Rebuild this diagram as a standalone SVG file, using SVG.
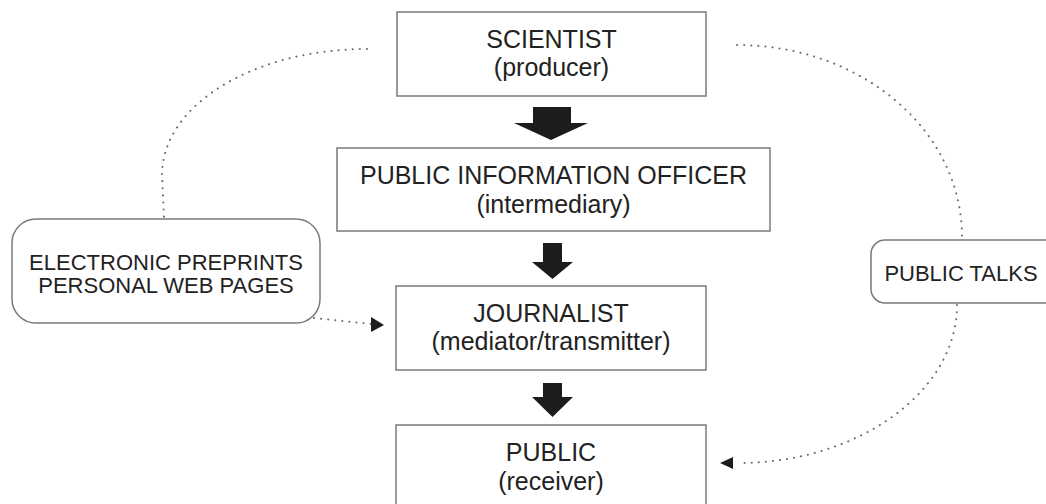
<svg xmlns="http://www.w3.org/2000/svg" width="1046" height="504" viewBox="0 0 1046 504">
<defs>
<style>
.box{fill:#fff;stroke:#7a7a7a;stroke-width:1.5}
.t{font-family:"Liberation Sans",Arial,sans-serif;font-size:25px;fill:#222;text-anchor:middle}
.s{font-family:"Liberation Sans",Arial,sans-serif;font-size:22px;fill:#222;text-anchor:middle}
.dot{fill:none;stroke:#6a6a6a;stroke-width:2;stroke-linecap:round;stroke-dasharray:0.1 7}
.big{fill:#1c1c1c}
</style>
<marker id="ah" viewBox="0 0 12 12" refX="11" refY="6" markerWidth="12" markerHeight="12" markerUnits="userSpaceOnUse" orient="auto">
<path d="M0,0 L12,6 L0,12 Z" fill="#1c1c1c"/>
</marker>
</defs>
<rect width="1046" height="504" fill="#fff"/>
<g id="connectors">
<path class="dot" d="M367,49 C254,49 162,105 162,175 L164,217"/>
<path class="dot" d="M737,45 C861,45 962,130 962,237"/>
<path class="dot" d="M957,305 C957,392 858,463 738,463"/>
<path d="M733,457 L720,463 L733,469 Z" fill="#1c1c1c"/>
<path class="dot" d="M314,318 L372,324"/>
<path d="M371,317 L384,325 L371,332 Z" fill="#1c1c1c"/>
<path class="big" d="M533,107 H571 V123 H588 L551,140 L514,123 H533 Z"/>
<path class="big" d="M543,243 H562 V262 H573 L552.5,279 L532,262 H543 Z"/>
<path class="big" d="M543,383 H562 V397 H573 L552.5,417 L532,397 H543 Z"/>
</g>
<g id="scientist">
<rect class="box" x="397" y="12" width="309" height="84"/>
<text class="t" x="551.5" y="48">SCIENTIST</text>
<text class="t" x="551.5" y="76">(producer)</text>
</g>
<g id="pio">
<rect class="box" x="337" y="148" width="433" height="83"/>
<text class="t" x="553.5" y="184">PUBLIC INFORMATION OFFICER</text>
<text class="t" x="553.5" y="213">(intermediary)</text>
</g>
<g id="journalist">
<rect class="box" x="396" y="286" width="310" height="84"/>
<text class="t" x="551" y="322">JOURNALIST</text>
<text class="t" x="551" y="350">(mediator/transmitter)</text>
</g>
<g id="public">
<rect class="box" x="396" y="425" width="310" height="90"/>
<text class="t" x="551" y="461">PUBLIC</text>
<text class="t" x="551" y="490">(receiver)</text>
</g>
<g id="preprints">
<rect class="box" x="12" y="219" width="308" height="104" rx="24" ry="24"/>
<text class="s" x="166" y="270">ELECTRONIC PREPRINTS</text>
<text class="s" x="166" y="293">PERSONAL WEB PAGES</text>
</g>
<g id="talks">
<rect class="box" x="871" y="240" width="190" height="63" rx="14" ry="14"/>
<text class="s" x="961" y="281">PUBLIC TALKS</text>
</g>
</svg>
